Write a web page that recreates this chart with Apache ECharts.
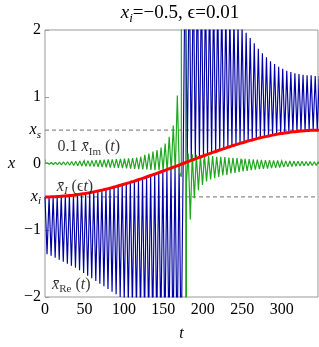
<!DOCTYPE html>
<html><head><meta charset="utf-8">
<script src="https://cdn.jsdelivr.net/npm/echarts@6/dist/echarts.min.js"></script>
<style>html,body{margin:0;padding:0;background:#fff}#c{width:319px;height:347px}</style>
</head><body><div id="c"></div>
<script>
// ---- data ----
const period = 5.15;                 // oscillation period in t
const tMax = 346;
const xTicks = [0, 50, 100, 150, 200, 250, 300];
const yTicks = [-2, -1, 0, 1, 2];
const yLabelVals = [-2, -1, -0.5, 0, 0.5, 1, 2];
const refLevels = [0.5, -0.5];       // x_s, x_i

// red curve x_I(eps t), sampled at t = k*period (blue touches it there)
const redVals = [-0.50,-0.50,-0.498,-0.495,-0.492,-0.487,-0.481,-0.474,-0.466,-0.457,-0.448,-0.437,-0.425,-0.412,-0.399,-0.385,-0.369,-0.353,-0.337,-0.319,-0.301,-0.282,-0.263,-0.243,-0.223,-0.202,-0.180,-0.159,-0.137,-0.114,-0.091,-0.069,-0.046,-0.023,0.0,0.023,0.046,0.069,0.091,0.114,0.137,0.159,0.180,0.202,0.223,0.243,0.263,0.282,0.301,0.319,0.337,0.353,0.369,0.385,0.399,0.412,0.425,0.437,0.448,0.457,0.466,0.474,0.481,0.487,0.492,0.495,0.498,0.50,0.50];
// blue Re x: far-side extremum of each cycle (at k*period + period/2)
const blueFar = [-1.36,-1.38,-1.41,-1.44,-1.47,-1.50,-1.53,-1.56,-1.60,-1.64,-1.68,-1.72,-1.76,-1.80,-1.84,-1.88,-1.92,-1.96,-2.0,-2.05,-2.1,-2.15,-2.2,-2.25,-2.3,-2.35,-2.4,-2.45,-2.5,-2.55,-2.6,-2.7,-2.8,-2.9,
  3.2,3.0,2.9,2.8,2.7,2.6,2.55,2.5,2.45,2.4,2.3,2.25,2.2,2.1,2.05,1.96,1.88,1.80,1.72,1.65,1.59,1.53,1.49,1.45,1.42,1.39,1.37,1.35,1.34,1.33,1.32,1.32,1.31,1.31];
// green 0.1*Im x: before the jump
const gPeakPre = [0.012,0.015,0.018,0.02,0.023,0.026,0.03,0.033,0.036,0.04,0.043,0.046,0.05,0.053,0.056,0.06,0.063,0.066,0.07,0.073,0.077,0.08,0.09,0.10,0.13,0.15,0.18,0.20,0.24,0.30,0.40,0.57,1.02];
const gTroughPre = [-0.012,-0.015,-0.018,-0.02,-0.023,-0.026,-0.03,-0.033,-0.036,-0.04,-0.043,-0.046,-0.05,-0.053,-0.056,-0.06,-0.063,-0.066,-0.07,-0.073,-0.077,-0.08,-0.085,-0.09,-0.09,-0.095,-0.1,-0.1,-0.105,-0.11,-0.115,-0.12,-0.13];
const gPreShift = [2.9, 5.475];      // peak / trough phase in t
// the jump
const spikeT = [172.8, 173.3, 178.2, 178.7, 179.2];
const spikeV = [-0.2, 40, 40, -40, -0.3];
// after the jump
const gPeakPost = [0.15,0.14,0.13,0.12,0.12,0.11,0.11,0.10,0.10,0.095,0.09,0.085,0.08,0.075,0.07,0.065,0.06,0.058,0.055,0.052,0.05,0.047,0.045,0.042,0.04,0.038,0.036,0.034,0.032,0.03,0.028,0.026,0.025];
const gTroughPost = [-0.84,-0.52,-0.40,-0.32,-0.27,-0.24,-0.22,-0.20,-0.18,-0.17,-0.15,-0.14,-0.13,-0.12,-0.11,-0.10,-0.09,-0.085,-0.08,-0.075,-0.07,-0.065,-0.06,-0.055,-0.05,-0.045,-0.04,-0.038,-0.035,-0.033,-0.03,-0.028,-0.026];
const gPostStart = 35;
const gPostShift = [1.3, 3.9];

// ---- build series ----
const blue = [];
for (let k = 0; k < blueFar.length; k++) {
  blue.push([k * period, redVals[k]]);
  blue.push([k * period + period / 2, blueFar[k]]);
}
blue.push([blueFar.length * period, redVals[blueFar.length]]);
const red = redVals.map((v, k) => [k * period, v]);
const green = [[0, 0]];
gPeakPre.forEach((v, j) => { green.push([j * period + gPreShift[0], v]); green.push([j * period + gPreShift[1], gTroughPre[j]]); });
spikeT.forEach((t, i) => green.push([t, spikeV[i]]));
gPeakPost.forEach((v, i) => { const j = i + gPostStart; green.push([j * period + gPostShift[0], v]); green.push([j * period + gPostShift[1], gTroughPost[i]]); });

const SERIF = 'Liberation Serif';
const rich = {
  n: { fontFamily: SERIF, fontSize: 16, color: '#000', lineHeight: 20 },
  i: { fontFamily: SERIF, fontSize: 16, fontStyle: 'italic', color: '#000', lineHeight: 20 },
  si: { fontFamily: SERIF, fontSize: 11, fontStyle: 'italic', color: '#000', lineHeight: 20, verticalAlign: 'bottom' },
  sn: { fontFamily: SERIF, fontSize: 11, color: '#000', lineHeight: 20, verticalAlign: 'bottom' },
  tn: { fontFamily: SERIF, fontSize: 19, color: '#000', lineHeight: 24 },
  ti: { fontFamily: SERIF, fontSize: 19, fontStyle: 'italic', color: '#000', lineHeight: 24 },
  ts: { fontFamily: SERIF, fontSize: 13, fontStyle: 'italic', color: '#000', lineHeight: 24, verticalAlign: 'bottom' }
};
function yFmt(v) {
  if (v === 0.5) return '{i|x}{si|s}';
  if (v === -0.5) return '{i|x}{si|i}';
  return '{n|' + (v < 0 ? '\u2212' + (-v) : v) + '}';
}
const annos = [
  { pos: [16, 0.245], text: '{n|0.1 }{i|x\u0304}{sn|Im}{n| (}{i|t}{n|)}' },
  { pos: [15, -0.35], text: '{i|x\u0304}{si|I}{n| (\u03f5}{i|t}{n|)}' },
  { pos: [9, -1.82], text: '{i|x\u0304}{sn|Re}{n| (}{i|t}{n|)}' }
];

const chart = echarts.init(document.getElementById('c'), null, { renderer: 'canvas' });
chart.setOption({
  animation: false,
  backgroundColor: '#fff',
  grid: { left: 45, top: 30, width: 273, height: 272, show: true, borderColor: '#999', borderWidth: 1, backgroundColor: 'transparent' },
  graphic: [{
    type: 'text', x: 180, y: 13,
    style: { text: '{ti|x}{ts|i}{tn|=\u22120.5, \u03f5=0.01}', rich: rich, align: 'center', verticalAlign: 'middle' }
  }],
  xAxis: {
    type: 'value', min: 0, max: tMax, interval: 50,
    axisLine: { show: false },
    axisTick: { show: true, inside: true, length: 4, lineStyle: { color: '#999' }, customValues: xTicks },
    axisLabel: { customValues: xTicks, margin: 3, formatter: v => '{n|' + v + '}', rich: rich },
    splitLine: { show: false },
    name: 't', nameLocation: 'middle', nameGap: 29,
    nameTextStyle: { fontFamily: SERIF, fontStyle: 'italic', fontSize: 16, color: '#000' }
  },
  yAxis: {
    type: 'value', min: -2, max: 2, interval: 1,
    axisLine: { show: false },
    axisTick: { show: true, inside: true, length: 4, lineStyle: { color: '#999' }, customValues: yTicks },
    axisLabel: { customValues: yLabelVals, margin: 4, formatter: yFmt, rich: rich },
    splitLine: { show: false },
    name: 'x', nameLocation: 'middle', nameGap: 30, nameRotate: 0,
    nameTextStyle: { fontFamily: SERIF, fontStyle: 'italic', fontSize: 16, color: '#000' }
  },
  series: [
    ...refLevels.map(lv => ({
      type: 'line', data: [[0, lv], [tMax, lv]], showSymbol: false, silent: true, z: 1,
      lineStyle: { color: '#8c8c8c', width: 1.2, type: [4, 3] }
    })),
    { type: 'line', data: blue, showSymbol: false, sampling: null, z: 2, clip: true,
      lineStyle: { color: '#0000a6', width: 1.15 } },
    { type: 'line', data: green, showSymbol: false, z: 3, clip: true,
      lineStyle: { color: '#1fa81f', width: 1.2 } },
    { type: 'line', data: red, showSymbol: false, smooth: true, z: 4, clip: true,
      lineStyle: { color: '#ff0000', width: 3 } },
    ...annos.map(a => ({
      type: 'scatter', data: [a.pos], symbolSize: 0, z: 5, silent: true,
      label: { show: true, position: 'right', distance: 0, formatter: a.text, rich: rich }
    }))
  ]
});
</script>
</body></html>
